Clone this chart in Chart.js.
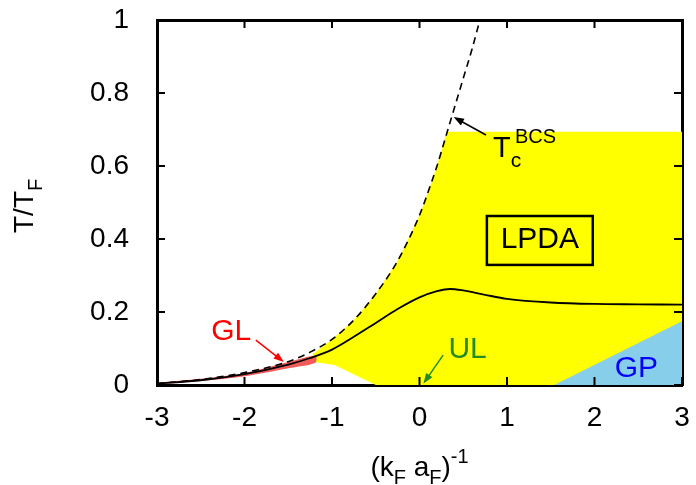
<!DOCTYPE html>
<html>
<head>
<meta charset="utf-8">
<script src="https://cdn.jsdelivr.net/npm/chart.js@4/dist/chart.umd.min.js"></script>
<style>
  html, body { margin: 0; padding: 0; background: #fff; }
</style>
</head>
<body>
<canvas id="chart" width="696" height="485"></canvas>
<script>
// axis ticks
var xTicks = [-3, -2, -1, 0, 1, 2, 3];
var yTicks = [0, 0.2, 0.4, 0.6, 0.8, 1];

// mean-field T_c (dashed)
var bcsX = [-3, -2.5, -2, -1.5, -1.25, -1, -0.75, -0.5, -0.25, 0, 0.1, 0.2, 0.3, 0.4, 0.5, 0.6, 0.69];
var bcsY = [0.004, 0.015, 0.034, 0.064, 0.09, 0.125, 0.178, 0.25, 0.34, 0.465, 0.53, 0.6, 0.68, 0.76, 0.84, 0.92, 1.0];

// critical temperature (solid)
var tcX = [-3, -2.5, -2, -1.5, -1.25, -1, -0.75, -0.5, -0.25, 0, 0.2, 0.35, 0.5, 0.75, 1, 1.5, 2, 2.5, 3];
var tcY = [0.004, 0.013, 0.03, 0.056, 0.074, 0.097, 0.132, 0.17, 0.208, 0.24, 0.257, 0.263, 0.259, 0.247, 0.236, 0.226, 0.222, 0.221, 0.22];

// LPDA region outline (yellow)
var lpdaX = [-1.22, -1, -0.75, -0.5, -0.25, 0, 0.1, 0.2, 0.31, 3, 3, -0.5, -0.97, -1.22];
var lpdaY = [0.085, 0.125, 0.178, 0.25, 0.34, 0.465, 0.53, 0.6, 0.694, 0.694, 0, 0, 0.055, 0.064];

// GP region (light blue)
var gpX = [1.54, 3, 3];
var gpY = [0, 0.175, 0];

// GL band (red)
var glX = [-3, -2.5, -2, -1.5, -1.19, -1.19, -1.5, -2, -2.5, -3];
var glY = [0.006, 0.017, 0.033, 0.063, 0.08, 0.061, 0.046, 0.024, 0.011, 0.002];

function pts(xs, ys) {
    return xs.map(function (x, i) { return { x: x, y: ys[i] }; });
}

var FONT = '"Liberation Sans", Arial, Helvetica, sans-serif';

// draws a run of text pieces: [text, size, baseline shift]
function drawRich(ctx, parts, x, y, align) {
    var w = 0;
    parts.forEach(function (p) {
        ctx.font = p[1] + 'px ' + FONT;
        w += ctx.measureText(p[0]).width;
    });
    var cx = align === 'center' ? x - w / 2 : x;
    ctx.textAlign = 'left';
    ctx.textBaseline = 'alphabetic';
    parts.forEach(function (p) {
        ctx.font = p[1] + 'px ' + FONT;
        ctx.fillText(p[0], cx, y + p[2]);
        cx += ctx.measureText(p[0]).width;
    });
}

function arrow(ctx, x1, y1, x2, y2, color) {
    var a = Math.atan2(y2 - y1, x2 - x1);
    var L = 11, W = 0.35;
    ctx.strokeStyle = color;
    ctx.fillStyle = color;
    ctx.lineWidth = 1.5;
    ctx.beginPath();
    ctx.moveTo(x1, y1);
    ctx.lineTo(x2 - 6 * Math.cos(a), y2 - 6 * Math.sin(a));
    ctx.stroke();
    ctx.beginPath();
    ctx.moveTo(x2, y2);
    ctx.lineTo(x2 - L * Math.cos(a - W), y2 - L * Math.sin(a - W));
    ctx.lineTo(x2 - L * Math.cos(a + W), y2 - L * Math.sin(a + W));
    ctx.closePath();
    ctx.fill();
}

// frame edge: a scale that only draws its border line
function edge(pos, axis, min, max) {
    return {
        type: 'linear', position: pos, axis: axis, min: min, max: max, z: 2,
        grid: { display: false },
        ticks: { display: false },
        border: { display: true, width: 3, color: '#000' },
        afterFit: function (s) {
            if (axis === 'x') { s.height = 0; } else { s.width = 0; }
            s.paddingLeft = s.paddingRight = s.paddingTop = s.paddingBottom = 0;
        }
    };
}

var decor = {
    id: 'decor',
    afterDraw: function (chart) {
        var ctx = chart.ctx;
        var xs = chart.scales.x, ys = chart.scales.y;
        var X = function (v) { return xs.getPixelForValue(v); };
        var Y = function (v) { return ys.getPixelForValue(v); };
        var left = X(-3), right = X(3), top = Y(1), bottom = Y(0);

        ctx.save();
        ctx.setLineDash([]);
        ctx.fillStyle = '#000';
        ctx.strokeStyle = '#000';

        // inward tick marks
        xTicks.forEach(function (t) {
            ctx.fillRect(X(t) - 1, bottom - 8, 2, 8);
            ctx.fillRect(X(t) - 1, top, 2, 8);
        });
        yTicks.forEach(function (t) {
            ctx.fillRect(left, Y(t) - 1, 8, 2);
            ctx.fillRect(right - 8, Y(t) - 1, 8, 2);
        });

        // LPDA box
        ctx.lineWidth = 2.5;
        ctx.strokeRect(X(0.77), Y(0.463), X(1.98) - X(0.77), Y(0.329) - Y(0.463));
        drawRich(ctx, [['LPDA', 30, 0]], X(1.375), Y(0.375), 'center');

        // T_c^BCS label and arrow
        drawRich(ctx, [['T', 29, 0], ['c', 21, 10]], X(0.84), Y(0.625), 'left');
        drawRich(ctx, [['BCS', 20, 0]], X(1.09), Y(0.662), 'left');
        arrow(ctx, X(0.76), Y(0.685), X(0.39), Y(0.734), '#000');

        // GL
        ctx.fillStyle = '#ff0000';
        drawRich(ctx, [['GL', 30, 0]], X(-2.38), Y(0.123), 'left');
        arrow(ctx, X(-1.87), Y(0.123), X(-1.55), Y(0.063), '#ff0000');

        // UL
        ctx.fillStyle = '#228b22';
        drawRich(ctx, [['UL', 30, 0]], X(0.33), Y(0.074), 'left');
        arrow(ctx, X(0.27), Y(0.082), X(0.045), Y(0.004), '#228b22');

        // GP
        ctx.fillStyle = '#0000ff';
        drawRich(ctx, [['GP', 30, 0]], X(2.23), Y(0.022), 'left');

        // axis titles
        ctx.fillStyle = '#000';
        drawRich(ctx, [['(k', 28, 0], ['F', 20, 8], [' a', 28, 0], ['F', 20, 8], [')', 28, 0], ['-1', 20, -13]],
            (left + right) / 2, 476, 'center');
        ctx.translate(33, 233);
        ctx.rotate(-Math.PI / 2);
        drawRich(ctx, [['T/T', 28, 0], ['F', 20, 9]], 0, 0, 'left');
        ctx.restore();
    }
};

new Chart(document.getElementById('chart').getContext('2d'), {
    type: 'scatter',
    data: {
        datasets: [
            { data: pts(bcsX, bcsY), showLine: true, borderColor: '#000', borderWidth: 1.6,
              borderDash: [7, 5], pointRadius: 0, cubicInterpolationMode: 'monotone', order: 1 },
            { data: pts(tcX, tcY), showLine: true, borderColor: '#000', borderWidth: 1.8,
              pointRadius: 0, cubicInterpolationMode: 'monotone', order: 2 },
            { data: pts(glX, glY), showLine: true, borderWidth: 0, borderColor: 'rgba(0,0,0,0)',
              backgroundColor: '#f35a5a', fill: 'shape', tension: 0.3, pointRadius: 0, order: 3 },
            { data: pts(gpX, gpY), showLine: true, borderWidth: 0, borderColor: 'rgba(0,0,0,0)',
              backgroundColor: '#87ceeb', fill: 'shape', pointRadius: 0, order: 4 },
            { data: pts(lpdaX, lpdaY), showLine: true, borderWidth: 0, borderColor: 'rgba(0,0,0,0)',
              backgroundColor: '#ffff00', fill: 'shape', pointRadius: 0, order: 5 }
        ]
    },
    options: {
        responsive: false,
        animation: false,
        devicePixelRatio: 1,
        layout: { padding: { top: 20, right: 14, left: 0, bottom: 0 } },
        plugins: { legend: { display: false }, tooltip: { enabled: false } },
        scales: {
            x: {
                type: 'linear', min: -3, max: 3, z: 2,
                grid: { display: false },
                border: { display: true, width: 3, color: '#000' },
                ticks: { stepSize: 1, padding: 8, color: '#000', font: { size: 28, family: FONT } },
                afterFit: function (s) { s.height = 100; s.paddingLeft = 0; s.paddingRight = 0; }
            },
            y: {
                type: 'linear', min: 0, max: 1, z: 2,
                grid: { display: false },
                border: { display: true, width: 3, color: '#000' },
                ticks: {
                    stepSize: 0.2, padding: 20, color: '#000', font: { size: 28, family: FONT },
                    callback: function (v) { return String(+v.toFixed(1)); }
                },
                afterFit: function (s) { s.width = 157; s.paddingTop = 0; s.paddingBottom = 0; }
            },
            xTop: edge('top', 'x', -3, 3),
            yRight: edge('right', 'y', 0, 1)
        }
    },
    plugins: [decor]
});
</script>
</body>
</html>
